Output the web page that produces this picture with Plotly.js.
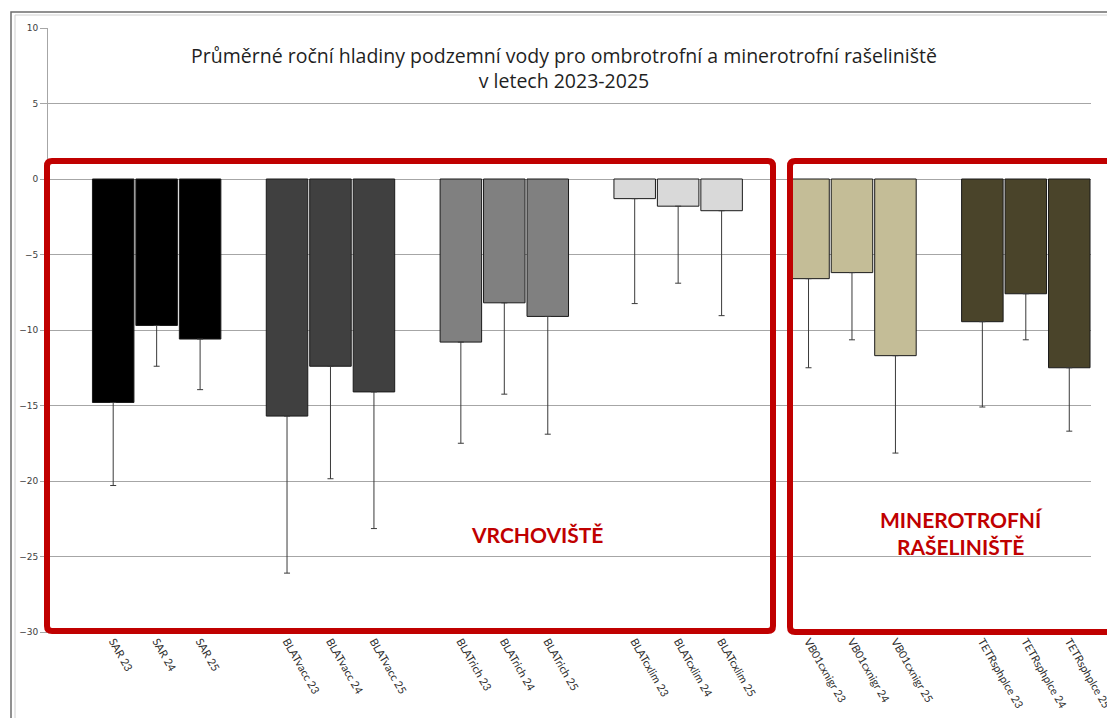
<!DOCTYPE html>
<html>
<head>
<meta charset="utf-8">
<script src="https://cdn.plot.ly/plotly-3.0.1.min.js"></script>
<style>html,body{margin:0;padding:0;background:#fff;}#chart{width:1107px;height:718px;}</style>
</head>
<body>
<div id="chart"></div>
<script>
// ---- data ----
const groupNames = ['SAR', 'BLATvacc', 'BLATrich', 'BLATcxlim', 'VB01cxnigr', 'TETRsphplce'];
const years = ['23', '24', '25'];
const groupColors = ['#000000', '#404040', '#808080', '#d9d9d9', '#c4bd97', '#4a442a'];
const meanLevels = [
  -14.8, -9.7, -10.6,
  -15.7, -12.4, -14.1,
  -10.8, -8.2, -9.1,
  -1.3, -1.8, -2.1,
  -6.6, -6.2, -11.7,
  -9.45, -7.6, -12.5
];
const sdMinus = [
  5.5, 2.7, 3.35,
  10.4, 7.45, 9.05,
  6.7, 6.05, 7.8,
  6.95, 5.1, 6.95,
  5.9, 4.45, 6.45,
  5.65, 3.05, 4.2
];
const yTicks = [10, 5, 0, -5, -10, -15, -20, -25, -30];

// ---- build category slots (blank slot before each group) ----
const xs = [], labels = [], colors = [];
let slot = 0;
groupNames.forEach((g, gi) => {
  slot += 1; // blank gap slot
  years.forEach(y => {
    xs.push(slot);
    labels.push(g + ' ' + y);
    colors.push(groupColors[gi]);
    slot += 1;
  });
});

const font = 'Lato, "Open Sans", sans-serif';

const trace = {
  type: 'bar',
  x: xs,
  y: meanLevels,
  width: 0.955,
  marker: { color: colors, line: { color: '#1a1a1a', width: 1 } },
  error_y: {
    type: 'data', symmetric: false,
    array: meanLevels.map(() => 0),
    arrayminus: sdMinus,
    color: '#3a3a3a', thickness: 1, width: 3
  },
  hoverinfo: 'x+y'
};

// pixel -> paper helpers for overlay shapes
const L = 48, R = 16, T = 28, B = 86, W = 1107, H = 718;
const pw = W - L - R, ph = H - T - B;
const xp = px => (px - L) / pw;
const yp = py => (H - B - py) / ph;

function roundRect(x0, y0, x1, y1, r) {
  const rx = r / pw, ry = r / ph;
  const a = xp(x0), b = xp(x1), top = yp(y0), bot = yp(y1);
  return `M ${a + rx},${top} L ${b - rx},${top} Q ${b},${top} ${b},${top - ry} ` +
         `L ${b},${bot + ry} Q ${b},${bot} ${b - rx},${bot} L ${a + rx},${bot} ` +
         `Q ${a},${bot} ${a},${bot + ry} L ${a},${top - ry} Q ${a},${top} ${a + rx},${top} Z`;
}

const layout = {
  width: W, height: H,
  margin: { l: L, r: R, t: T, b: B },
  paper_bgcolor: '#ffffff', plot_bgcolor: '#ffffff',
  showlegend: false,
  bargap: 0,
  title: {
    text: 'Průměrné roční hladiny podzemní vody pro ombrotrofní a minerotrofní rašeliniště<br>v letech 2023-2025',
    x: 564 / W, xanchor: 'center', xref: 'container',
    y: 1 - 63 / H, yanchor: 'middle', yref: 'container',
    font: { family: '"Open Sans", Lato, sans-serif', size: 19.5, color: '#1f1f1f' }
  },
  xaxis: {
    range: [-0.5, slot - 0.5],
    tickmode: 'array', tickvals: xs, ticktext: labels,
    tickangle: 60,
    ticklabeloverflow: 'allow',
    tickfont: { family: font, size: 11, color: '#2e2e2e' },
    showgrid: false, zeroline: false, showline: false, ticks: ''
  },
  yaxis: {
    range: [-30, 10],
    tickmode: 'array', tickvals: yTicks,
    tickfont: { family: '"DejaVu Sans", sans-serif', size: 9, color: '#404040' },
    showgrid: true, gridcolor: '#a6a6a6', gridwidth: 1,
    zeroline: false,
    showline: true, linecolor: '#a6a6a6', linewidth: 1,
    ticks: 'outside', ticklen: 7, tickcolor: '#a6a6a6'
  },
  shapes: [
    { type: 'rect', xref: 'paper', yref: 'paper', x0: xp(11), x1: xp(1130), y0: yp(740), y1: yp(12),
      line: { color: '#6e6e6e', width: 1.5 }, layer: 'below' },
    { type: 'rect', xref: 'paper', yref: 'paper', x0: xp(15), x1: xp(1130), y0: yp(740), y1: yp(15),
      line: { color: '#d0d0d0', width: 1 }, layer: 'below' },
    { type: 'path', xref: 'paper', yref: 'paper', path: roundRect(47, 161, 773, 631, 5),
      line: { color: '#c00000', width: 6 } },
    { type: 'path', xref: 'paper', yref: 'paper', path: roundRect(790, 161, 1140, 632, 5),
      line: { color: '#c00000', width: 6 } }
  ],
  annotations: [
    { text: '<b>VRCHOVIŠTĚ</b>', xref: 'paper', yref: 'paper', x: xp(537), y: yp(534),
      xanchor: 'center', yanchor: 'middle', showarrow: false,
      font: { family: font, size: 21, color: '#c00000' } },
    { text: '<b>MINEROTROFNÍ<br>RAŠELINIŠTĚ</b>', xref: 'paper', yref: 'paper', x: xp(961), y: yp(533),
      xanchor: 'center', yanchor: 'middle', showarrow: false,
      font: { family: font, size: 21, color: '#c00000' } }
  ]
};

Plotly.newPlot('chart', [trace], layout, { displayModeBar: false, staticPlot: true });
</script>
</body>
</html>
